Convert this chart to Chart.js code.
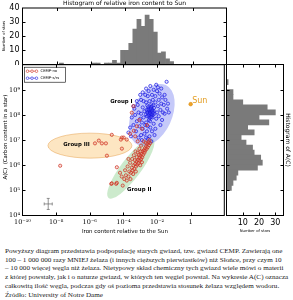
<!DOCTYPE html>
<html>
<head>
<meta charset="utf-8">
<script src="https://cdn.jsdelivr.net/npm/chart.js@4"></script>
<style>
  html, body { margin: 0; padding: 0; background: #fff; }
  #wrap { position: relative; width: 293px; height: 300px; overflow: hidden; background: #fff; }
  canvas { position: absolute; }
  #opis { position: absolute; left: 5px; top: 247px; font-family: "Liberation Serif", serif; font-size: 7.15px; line-height: 8.7px; color: #1a1a1a; white-space: nowrap; }
</style>
</head>
<body>
<div id="wrap">
  <canvas id="histFe" width="229" height="65" style="left:0;top:0"></canvas>
  <canvas id="glowny" width="229" height="180" style="left:0;top:60px"></canvas>
  <canvas id="histAC" width="67" height="180" style="left:226px;top:60px"></canvas>
  <div id="opis">
    <div>Powyższy diagram przedstawia podpopulację starych gwiazd, tzw. gwiazd CEMP. Zawierają one</div>
    <div>100 – 1 000 000 razy MNIEJ żelaza (i innych cięższych pierwiastków) niż Słońce, przy czym 10</div>
    <div>– 10 000 więcej węgla niż żelaza. Nietypowy skład chemiczny tych gwiazd wiele mówi o materii</div>
    <div>z której powstały, jak i o naturze gwiazd, w których ten węgiel powstał. Na wykresie A(C) oznacza</div>
    <div>całkowitą ilość węgla, podczas gdy oś pozioma przedstawia stosunek żelaza względem wodoru.</div>
    <div>Źródło: University of Notre Dame</div>
  </div>
</div>
<script>
// --- dane (wykładniki log10) ---
// histogram zawartości żelaza: środki przedziałów i liczebności
const feBinLog = [-7.71, -5.79, -5.55, -5.07, -4.83, -4.59, -4.35, -4.11, -3.87, -3.63, -3.39, -3.15, -2.91, -2.67, -2.43, -2.19, -1.95, -1.71, -1.47, -1.23];
const feBinCount = [1, 1, 1, 1, 1, 3, 1, 10, 10, 15, 25, 32, 27, 35, 32, 23, 8, 9, 4, 2];

// histogram A(C)
const acBinLog = [9.3, 8.9, 8.7, 8.5, 8.3, 8.1, 7.9, 7.7, 7.5, 7.3, 7.1, 6.9, 6.7, 6.5, 6.3, 6.1, 5.9, 5.7, 5.5, 5.3, 5.1];
const acBinCount = [1, 4, 4, 10, 25, 30, 20, 26, 13, 17, 9, 12, 16, 17, 21, 22, 19, 7, 6, 4, 3];

// gwiazdy CEMP-no: [log Fe, log A(C)]
const cempNoPoints = [
  [-4.72,5.26],[-4.43,5.26],[-4.04,5.19],[-3.80,5.39],[-4.39,5.92],[-4.69,5.28],[-4.39,5.30],[-3.95,5.45],[-3.85,5.60],[-3.70,5.55],
  [-3.65,5.75],[-3.55,5.70],[-3.50,5.90],[-3.45,5.80],[-3.40,6.00],[-3.35,5.85],[-3.30,6.05],[-3.25,5.95],[-3.22,6.15],[-3.18,6.02],
  [-3.12,6.20],[-3.10,6.08],[-3.05,6.30],[-3.02,6.18],[-2.98,6.38],[-2.95,6.25],[-2.92,6.45],[-2.88,6.32],[-2.85,6.55],[-2.82,6.42],
  [-2.78,6.60],[-2.75,6.50],[-2.72,6.68],[-2.70,6.58],[-2.65,6.75],[-2.62,6.65],[-2.58,6.85],[-2.55,6.72],[-2.50,6.92],[-2.48,6.80],
  [-2.45,7.00],[-2.40,6.88],[-3.60,6.10],[-3.48,6.25],[-3.38,6.40],[-3.28,6.55],[-3.15,6.50],[-3.05,6.65],[-2.95,6.78],[-3.75,5.95],
  [-3.90,5.80],[-4.10,5.55],[-4.20,5.70],[-3.32,6.20],[-3.20,6.32],[-3.08,6.42],[-2.98,6.55],[-2.90,6.12],[-3.00,6.00],[-3.42,5.65],
  [-3.58,5.45],[-3.70,6.25],[-2.68,6.90],[-2.80,6.95],[-3.26,5.75],
  [-5.69,6.87],[-5.46,6.98],[-5.28,6.87],[-5.04,6.87],[-4.69,7.21],[-4.15,7.02],[-3.98,7.10],[-4.09,6.66],[-4.98,6.38],[-7.76,5.98],
  [-3.50,8.09],[-3.38,7.37],[-4.09,7.10],[-3.80,7.02],[-3.60,7.25],[-3.20,7.55],[-3.05,7.80],[-2.90,7.45],[-3.30,7.15],[-3.15,6.95],
  [-2.60,7.60],[-3.40,8.35]
];

// gwiazdy CEMP-s/rs
const cempSPoints = [
  [-2.42,8.12],[-2.35,8.05],[-2.38,8.18],[-2.30,8.10],[-2.45,8.02],[-2.50,8.15],[-2.28,8.22],[-2.40,7.95],[-2.33,7.98],[-2.47,8.25],
  [-2.55,8.05],[-2.25,8.00],[-2.36,8.30],[-2.20,8.15],[-2.60,7.95],[-2.44,7.88],[-2.31,8.35],[-2.52,8.32],[-2.18,8.28],[-2.62,8.20],
  [-2.39,8.08],[-2.27,7.90],[-2.57,8.10],[-2.48,7.80],[-2.15,8.05],[-2.34,8.42],[-2.66,8.02],[-2.22,8.38],[-2.41,7.75],[-2.58,8.38],
  [-2.80,7.90],[-2.75,8.15],[-2.90,7.70],[-2.70,7.60],[-2.85,8.30],[-3.00,7.85],[-2.95,8.05],[-2.65,7.70],[-2.55,7.55],[-2.40,7.50],
  [-2.20,7.65],[-2.05,7.85],[-2.00,8.10],[-1.95,8.35],[-2.10,8.50],[-2.25,8.60],[-2.45,8.55],[-2.65,8.50],[-2.80,8.55],[-2.10,8.75],
  [-1.90,8.60],[-1.85,8.85],[-2.00,8.95],[-2.30,8.80],[-2.55,8.75],[-1.80,8.20],[-1.75,8.45],[-3.10,8.10],[-3.20,7.75],[-3.05,7.55],
  [-2.85,7.45],[-2.60,7.35],[-2.30,7.35],[-2.10,7.45],[-1.90,7.95],[-2.70,8.80],[-2.20,9.00],[-1.95,9.10],[-3.15,8.40],[-3.30,8.00],
  [-2.95,8.60],[-2.50,8.95],[-1.70,8.70],[-1.65,8.10],[-2.75,7.25],[-3.40,7.60],[-3.50,7.90],[-3.35,8.25],[-3.60,7.50],[-3.25,7.35],
  [-2.95,7.20],[-2.45,7.15],[-2.15,7.20],[-1.80,7.60],[-1.60,8.40],[-1.55,8.80],[-1.75,9.05],[-2.40,9.15],[-2.65,9.05],[-3.00,8.80],
  [-3.20,8.55],[-1.43,9.32],[-3.70,7.30],[-3.10,7.10],[-2.55,7.05],[-1.70,7.80],[-3.40,8.35],[-2.05,9.20],[-2.85,8.90],[-3.55,7.15],
  [-1.30,8.10],[-1.35,8.45],[-1.50,8.60],[-1.40,8.25],[-1.55,8.05],[-2.90,7.00],[-2.35,6.95],[-2.65,7.10],
  [-2.37,8.14],[-2.43,8.07],[-2.32,8.02],[-2.46,8.19],[-2.29,8.16],[-2.51,7.98],[-2.24,8.09],[-2.39,8.24],[-2.53,8.22],[-2.34,7.92]
];

const sunLog = [0, 8.43];
const errSample = { fe: -8.47, ac: 4.46, dFe: 0.24, dAC: 0.22 };

const xTickExp = [-10, -8, -6, -4, -2, 0];
const yTickExp = [4, 5, 6, 7, 8, 9];
const countTicks = [10, 20, 30];

// --- pomocnicze ---
Chart.defaults.font.family = '"DejaVu Sans", sans-serif';
Chart.defaults.color = '#000';

const SUP = { '-': '⁻', '0': '⁰', '1': '¹', '2': '²', '3': '³', '4': '⁴', '5': '⁵', '6': '⁶', '7': '⁷', '8': '⁸', '9': '⁹' };
function potega(v) {
  const e = Math.round(Math.log10(v));
  if (e === 0) return '1';
  return '10' + String(e).split('').map(c => SUP[c]).join('');
}

function stala(prop, size) {
  return s => {
    s[prop] = size;
    s.paddingLeft = 0; s.paddingRight = 0; s.paddingTop = 0; s.paddingBottom = 0;
  };
}

// ramka z kreskami do środka jak w matplotlib
const ramka = {
  id: 'ramka',
  afterDraw(chart) {
    const { ctx, chartArea: a } = chart;
    const sx = chart.scales.x, sy = chart.scales.y;
    ctx.save();
    ctx.strokeStyle = '#000';
    ctx.lineWidth = 1;
    ctx.strokeRect(a.left, a.top, a.right - a.left, a.bottom - a.top);
    ctx.beginPath();
    sx.ticks.forEach(t => {
      const p = Math.round(sx.getPixelForValue(t.value)) + 0.5;
      if (p <= a.left + 1 || p >= a.right - 1) return;
      ctx.moveTo(p, a.bottom); ctx.lineTo(p, a.bottom - 3);
      ctx.moveTo(p, a.top); ctx.lineTo(p, a.top + 3);
    });
    sy.ticks.forEach(t => {
      const p = Math.round(sy.getPixelForValue(t.value)) + 0.5;
      if (p <= a.top + 1 || p >= a.bottom - 1) return;
      ctx.moveTo(a.left, p); ctx.lineTo(a.left + 3, p);
      ctx.moveTo(a.right, p); ctx.lineTo(a.right - 3, p);
    });
    ctx.stroke();
    ctx.restore();
  }
};

function napisy(id, items) {
  return {
    id,
    afterDraw(chart) {
      const ctx = chart.ctx;
      items.forEach(it => {
        let x = it.x, y = it.y;
        if (it.fe !== undefined) {
          x = chart.scales.x.getPixelForValue(10 ** it.fe);
          y = chart.scales.y.getPixelForValue(10 ** it.ac);
        }
        ctx.save();
        ctx.translate(x + (it.dx || 0), y + (it.dy || 0));
        if (it.rot) ctx.rotate(it.rot * Math.PI / 180);
        ctx.font = it.font;
        ctx.fillStyle = it.color || '#000';
        ctx.textAlign = it.align || 'center';
        ctx.textBaseline = 'middle';
        ctx.fillText(it.t, 0, 0);
        ctx.restore();
      });
    }
  };
}

// obszary grup
const elipsy = [
  { fe: -5.99, ac: 6.78, rx: 42, ry: 12.5, rot: 0, fill: 'rgba(250,195,110,0.42)', stroke: 'rgba(225,150,60,0.55)' },
  { fe: -3.56, ac: 5.87, rx: 37, ry: 10, rot: -53, fill: 'rgba(120,200,120,0.38)', stroke: null },
  { fe: -2.31, ac: 8.0, rx: 33, ry: 20, rot: -65, fill: 'rgba(110,120,240,0.40)', stroke: null }
];

const obszary = {
  id: 'obszary',
  beforeDatasetsDraw(chart) {
    const ctx = chart.ctx, a = chart.chartArea;
    ctx.save();
    ctx.beginPath();
    ctx.rect(a.left, a.top, a.right - a.left, a.bottom - a.top);
    ctx.clip();
    elipsy.forEach(e => {
      const cx = chart.scales.x.getPixelForValue(10 ** e.fe);
      const cy = chart.scales.y.getPixelForValue(10 ** e.ac);
      ctx.beginPath();
      ctx.ellipse(cx, cy, e.rx, e.ry, e.rot * Math.PI / 180, 0, Math.PI * 2);
      ctx.fillStyle = e.fill;
      ctx.fill();
      if (e.stroke) { ctx.strokeStyle = e.stroke; ctx.lineWidth = 0.8; ctx.stroke(); }
    });
    // typowy błąd pomiaru
    const sx = chart.scales.x, sy = chart.scales.y;
    const px = sx.getPixelForValue(10 ** errSample.fe), py = sy.getPixelForValue(10 ** errSample.ac);
    const x1 = sx.getPixelForValue(10 ** (errSample.fe - errSample.dFe)), x2 = sx.getPixelForValue(10 ** (errSample.fe + errSample.dFe));
    const y1 = sy.getPixelForValue(10 ** (errSample.ac - errSample.dAC)), y2 = sy.getPixelForValue(10 ** (errSample.ac + errSample.dAC));
    ctx.strokeStyle = '#666';
    ctx.lineWidth = 0.7;
    ctx.beginPath();
    ctx.moveTo(x1, py); ctx.lineTo(x2, py);
    ctx.moveTo(px, y1); ctx.lineTo(px, y2);
    ctx.moveTo(x1, py - 1.5); ctx.lineTo(x1, py + 1.5);
    ctx.moveTo(x2, py - 1.5); ctx.lineTo(x2, py + 1.5);
    ctx.moveTo(px - 1.5, y1); ctx.lineTo(px + 1.5, y1);
    ctx.moveTo(px - 1.5, y2); ctx.lineTo(px + 1.5, y2);
    ctx.stroke();
    ctx.restore();
  }
};

const legenda = {
  id: 'legenda',
  afterDatasetsDraw(chart) {
    const ctx = chart.ctx, a = chart.chartArea;
    const x0 = a.left + 2, y0 = a.top + 2.5, w = 41, h = 15;
    ctx.save();
    ctx.fillStyle = '#fff';
    ctx.fillRect(x0, y0, w, h);
    ctx.strokeStyle = '#000';
    ctx.lineWidth = 0.6;
    ctx.strokeRect(x0, y0, w, h);
    chart.data.datasets.slice(0, 2).forEach((ds, i) => {
      const y = y0 + 4 + i * 7;
      ctx.strokeStyle = ds.borderColor;
      ctx.lineWidth = 0.6;
      ctx.beginPath(); ctx.moveTo(x0 + 3, y); ctx.lineTo(x0 + 12, y); ctx.stroke();
      [x0 + 3, x0 + 7.5, x0 + 12].forEach(cx => {
        ctx.beginPath(); ctx.arc(cx, y, 1.3, 0, Math.PI * 2);
        ctx.fillStyle = '#fff'; ctx.fill(); ctx.stroke();
      });
      ctx.fillStyle = '#000';
      ctx.font = '3.8px "DejaVu Sans"';
      ctx.textAlign = 'left';
      ctx.textBaseline = 'middle';
      ctx.fillText(ds.label, x0 + 16, y);
    });
    ctx.restore();
  }
};

// --- histogram żelaza (góra) ---
new Chart(document.getElementById('histFe'), {
  type: 'bar',
  data: {
    datasets: [{
      data: feBinLog.map((e, i) => ({ x: 10 ** e, y: feBinCount[i] })),
      backgroundColor: '#7a7a7a',
      borderWidth: 0,
      barPercentage: 1,
      categoryPercentage: 1
    }]
  },
  options: {
    responsive: false,
    animation: false,
    layout: { padding: { top: 8, right: 2.5, bottom: 0.5, left: 0 } },
    plugins: { legend: { display: false }, tooltip: { enabled: false } },
    scales: {
      x: {
        type: 'logarithmic', min: 1e-10, max: 1e2,
        grid: { display: false, drawTicks: false }, border: { display: false },
        ticks: { display: false },
        afterBuildTicks: s => { s.ticks = xTickExp.map(e => ({ value: 10 ** e })); },
        afterFit: stala('height', 0)
      },
      y: {
        min: 0, max: 40,
        grid: { display: false, drawTicks: false }, border: { display: false },
        ticks: { stepSize: 10, padding: 3, font: { size: 8 } },
        afterFit: stala('width', 22.5)
      }
    }
  },
  plugins: [ramka, napisy('tytulyFe', [
    { t: 'Histogram of relative iron content to Sun', x: 124.5, y: 3.5, font: '6px "DejaVu Sans"' },
    { t: 'Number of stars', x: 4.5, y: 36, rot: -90, font: '3.8px "DejaVu Sans"' }
  ])]
});

// --- wykres główny ---
new Chart(document.getElementById('glowny'), {
  type: 'scatter',
  data: {
    datasets: [
      {
        label: 'CEMP-no',
        data: cempNoPoints.map(p => ({ x: 10 ** p[0], y: 10 ** p[1] })),
        pointRadius: 1.6, borderWidth: 0.7,
        borderColor: 'rgb(205,45,30)', backgroundColor: 'rgba(235,130,110,0.25)'
      },
      {
        label: 'CEMP-s/rs',
        data: cempSPoints.map(p => ({ x: 10 ** p[0], y: 10 ** p[1] })),
        pointRadius: 1.6, borderWidth: 0.7,
        borderColor: 'rgb(25,25,225)', backgroundColor: 'rgba(140,140,255,0.2)'
      },
      {
        label: 'Sun',
        data: [{ x: 10 ** sunLog[0], y: 10 ** sunLog[1] }],
        pointRadius: 1.8, borderWidth: 0.6,
        borderColor: '#d98c10', backgroundColor: '#f0a428'
      }
    ]
  },
  options: {
    responsive: false,
    animation: false,
    layout: { padding: { top: 4.5, right: 2.5, bottom: 0, left: 0 } },
    plugins: { legend: { display: false }, tooltip: { enabled: false } },
    scales: {
      x: {
        type: 'logarithmic', min: 1e-10, max: 1e2,
        grid: { display: false, drawTicks: false }, border: { display: false },
        ticks: { padding: 3, autoSkip: false, maxRotation: 0, font: { family: '"DejaVu Serif", serif', size: 6.5 }, callback: v => potega(v) },
        afterBuildTicks: s => { s.ticks = xTickExp.map(e => ({ value: 10 ** e })); },
        afterFit: stala('height', 24.5)
      },
      y: {
        type: 'logarithmic', min: 1e4, max: 1e10,
        grid: { display: false, drawTicks: false }, border: { display: false },
        ticks: { padding: 2.5, autoSkip: false, font: { family: '"DejaVu Serif", serif', size: 6.5 }, callback: v => potega(v) },
        afterBuildTicks: s => { s.ticks = yTickExp.map(e => ({ value: 10 ** e })); },
        afterFit: stala('width', 22.5)
      }
    }
  },
  plugins: [obszary, ramka, legenda, napisy('tytulyMain', [
    { t: 'Iron content relative to the Sun', x: 125, y: 172, font: '5.5px "DejaVu Sans"' },
    { t: 'A(C)  (Carbon content in a star)', x: 5.5, y: 77, rot: -90, font: '5.4px "DejaVu Sans"' },
    { t: 'Group I', fe: -4.12, ac: 8.52, font: 'bold 5.4px "DejaVu Sans"' },
    { t: 'Group III', fe: -6.79, ac: 6.82, font: 'bold 5.4px "DejaVu Sans"' },
    { t: 'Group II', fe: -3.06, ac: 5.03, font: 'bold 5.4px "DejaVu Sans"' },
    { t: 'Sun', fe: sunLog[0], ac: sunLog[1], dx: 1.5, dy: -3, align: 'left', font: '8px "DejaVu Sans"', color: '#e39d22' }
  ])]
});

// --- histogram A(C) (prawo) ---
new Chart(document.getElementById('histAC'), {
  type: 'bar',
  data: {
    datasets: [{
      data: acBinLog.map((e, i) => ({ x: acBinCount[i], y: 10 ** e })),
      backgroundColor: '#7a7a7a',
      borderWidth: 0,
      barPercentage: 1,
      categoryPercentage: 1
    }]
  },
  options: {
    indexAxis: 'y',
    responsive: false,
    animation: false,
    layout: { padding: { top: 4.5, right: 9.5, bottom: 0, left: 0.5 } },
    plugins: { legend: { display: false }, tooltip: { enabled: false } },
    scales: {
      x: {
        type: 'linear', min: 0, max: 35,
        grid: { display: false, drawTicks: false }, border: { display: false },
        ticks: { padding: 3, autoSkip: false, font: { size: 8 } },
        afterBuildTicks: s => { s.ticks = countTicks.map(v => ({ value: v })); },
        afterFit: stala('height', 24.5)
      },
      y: {
        type: 'logarithmic', min: 1e4, max: 1e10,
        grid: { display: false, drawTicks: false }, border: { display: false },
        ticks: { display: false },
        afterBuildTicks: s => { s.ticks = yTickExp.map(e => ({ value: 10 ** e })); },
        afterFit: stala('width', 0)
      }
    }
  },
  plugins: [ramka, napisy('tytulyAC', [
    { t: 'Number of stars', x: 29, y: 171, font: '3.8px "DejaVu Sans"' },
    { t: 'Histogram of A(C)', x: 62, y: 80, rot: 90, font: '6px "DejaVu Sans"' }
  ])]
});
</script>
</body>
</html>
